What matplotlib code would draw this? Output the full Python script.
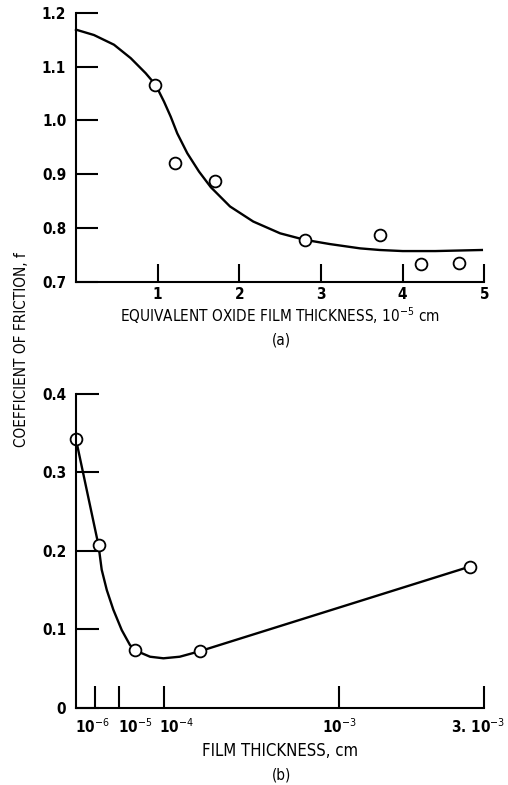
import numpy as np
import matplotlib
matplotlib.use("Agg")
import matplotlib.pyplot as plt
from matplotlib import font_manager
from matplotlib.ticker import FixedLocator, NullLocator
from matplotlib.transforms import ScaledTranslation

# (a) friction vs equivalent oxide film thickness (10^-5 cm)
oxide_x = [0.97, 1.21, 1.70, 2.81, 3.72, 4.22, 4.69]
oxide_f = [1.066, 0.920, 0.888, 0.778, 0.786, 0.733, 0.735]
oxide_curve_x = [0, 0.22, 0.465, 0.67, 0.853, 0.976, 1.078, 1.16, 1.24, 1.363,
                 1.506, 1.65, 1.886, 2.17, 2.5, 2.80, 3.11, 3.48, 3.72, 4.0,
                 4.4, 4.97]
oxide_curve_f = [1.169, 1.159, 1.141, 1.116, 1.088, 1.066, 1.035, 1.007, 0.976,
                 0.939, 0.905, 0.876, 0.840, 0.812, 0.790, 0.778, 0.770, 0.762,
                 0.759, 0.757, 0.757, 0.759]
oxide_ticks = [1, 2, 3, 4, 5]
oxide_yticks = [0.7, 0.8, 0.9, 1.0, 1.1, 1.2]

# (b) friction vs film thickness (cm)
film_x = [1e-7, 1.4e-6, 2.3e-5, 1.6e-4, 2.7e-3]
film_f = [0.342, 0.207, 0.073, 0.072, 0.180]
film_curve_x = [1e-7, 1.4e-6, 1.9e-6, 3.1e-6, 5.8e-6, 1.15e-5, 1.75e-5, 2.3e-5,
                4.9e-5, 9.7e-5, 1.23e-4, 1.6e-4, 2.7e-3]
film_curve_f = [0.342, 0.207, 0.176, 0.150, 0.125, 0.099, 0.080, 0.073,
                0.065, 0.063, 0.065, 0.072, 0.180]
film_ticks = [1e-6, 1e-5, 1e-4, 1e-3, 3e-3]
film_labels = ["10$^{-6}$", "10$^{-5}$", "10$^{-4}$", "10$^{-3}$", "3. 10$^{-3}$"]
film_yticks = [0, 0.1, 0.2, 0.3, 0.4]

# narrow face if one is around, the scanned figure uses a condensed type
fonts = font_manager.fontManager.ttflist
FONT = "DejaVu Sans"
if any(f.name == "Liberation Sans Narrow" for f in fonts):
    FONT = "Liberation Sans Narrow"
elif any(f.name == "DejaVu Sans" and f.stretch == "condensed" for f in fonts):
    plt.rcParams["font.stretch"] = "condensed"
plt.rcParams["font.family"] = [FONT, "DejaVu Sans"]
plt.rcParams["mathtext.fontset"] = "custom"
plt.rcParams["mathtext.rm"] = FONT
plt.rcParams["mathtext.it"] = FONT
plt.rcParams["mathtext.bf"] = FONT

# the hand-drawn thickness axis is neither linear nor log: piecewise in log10
knot_logs = [-7, -6, -5, -4, -3, np.log10(3e-3)]
knot_pos = [0, 19, 43, 88, 263, 408]


def fwd(x):
    x = np.asarray(x, dtype=float)
    lx = np.log10(np.where(x > 0, x, 1e-7))
    return np.interp(lx, knot_logs, knot_pos)


def inv(p):
    return 10 ** np.interp(np.asarray(p, dtype=float), knot_pos, knot_logs)


W, H = 508, 785
fig = plt.figure(figsize=(W / 100, H / 100), dpi=100)

lw = 1.5
tick_fs = 11


def style(ax, xlen, ylen):
    for s in ["top", "right"]:
        ax.spines[s].set_visible(False)
    for s in ["left", "bottom"]:
        ax.spines[s].set_linewidth(lw)
    ax.tick_params(axis="y", direction="in", length=ylen, width=lw, pad=7,
                   labelsize=tick_fs)
    ax.tick_params(axis="x", direction="in", length=xlen, width=lw, pad=4,
                   labelsize=tick_fs)
    for lab in ax.get_xticklabels() + ax.get_yticklabels():
        lab.set_fontweight("bold")


# ---- panel (a)
ax1 = fig.add_axes([76 / W, 1 - 281.7 / H, 408.3 / W, 268.7 / H])
ax1.plot(oxide_curve_x, oxide_curve_f, color="black", lw=1.7, zorder=2,
         clip_on=False, solid_joinstyle="round")
ax1.plot(oxide_x, oxide_f, "o", ms=8.5, mfc="white", mec="black", mew=1.3,
         zorder=3, clip_on=False)
ax1.set_xlim(0, 5)
ax1.set_ylim(0.7, 1.2)
ax1.set_xticks(oxide_ticks)
ax1.set_xticklabels([str(t) for t in oxide_ticks])
ax1.set_yticks(oxide_yticks)
ax1.set_yticklabels([f"{t:.1f}" for t in oxide_yticks])
style(ax1, 13, 16)
ax1.set_xlabel("EQUIVALENT OXIDE FILM THICKNESS, 10$^{-5}$ cm",
               fontsize=11, labelpad=2)
fig.text(281 / W, 1 - 340 / H, "(a)", ha="center", va="center", fontsize=11)

# ---- panel (b)
ax2 = fig.add_axes([76 / W, 1 - 707.7 / H, 408 / W, 313.7 / H])
ax2.set_xscale("function", functions=(fwd, inv))
ax2.plot(film_curve_x, film_curve_f, color="black", lw=1.7, zorder=2,
         clip_on=False, solid_joinstyle="round")
ax2.plot(film_x, film_f, "o", ms=8.5, mfc="white", mec="black", mew=1.3,
         zorder=2.2, clip_on=False)
ax2.set_xlim(1e-7, 3e-3)
ax2.set_ylim(0, 0.4)
ax2.xaxis.set_major_locator(FixedLocator(film_ticks))
ax2.xaxis.set_minor_locator(NullLocator())
ax2.set_xticklabels(film_labels)
ax2.set_yticks(film_yticks)
ax2.set_yticklabels(["0"] + [f"{t:.1f}" for t in film_yticks[1:]])
style(ax2, 15.5, 16.5)
ax2.tick_params(axis="x", pad=7)
# labels in the original sit a little off their tick marks
shifts = [-3, 16, 12, 0, -6]
for lab, dx in zip(ax2.get_xticklabels(), shifts):
    lab.set_transform(lab.get_transform() +
                      ScaledTranslation(dx / 100, 0, fig.dpi_scale_trans))
ax2.set_xlabel("FILM THICKNESS, cm", fontsize=12, labelpad=4)
fig.text(282 / W, 1 - 775 / H, "(b)", ha="center", va="center", fontsize=11)

fig.text(22 / W, 1 - 350 / H, "COEFFICIENT OF FRICTION, f", rotation=90,
         ha="center", va="center", fontsize=11)

fig.savefig("out.png", dpi=100)
